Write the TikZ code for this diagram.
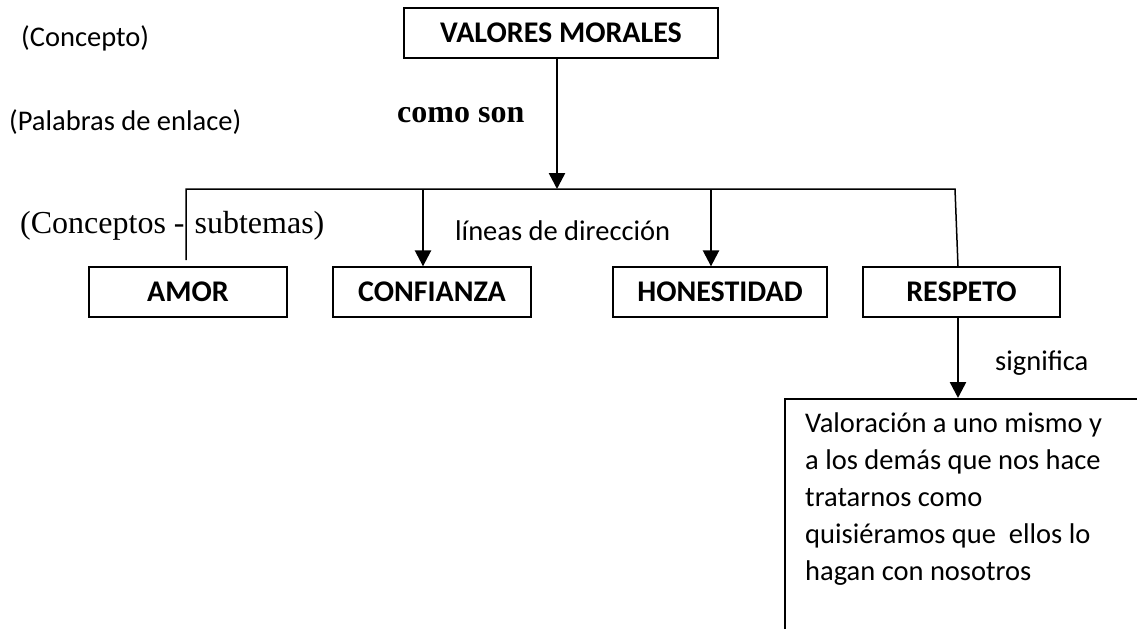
\documentclass[tikz,border=0pt]{standalone}
\usepackage{fontspec}
\setmainfont{Carlito}
\newfontfamily\tmsfont{Liberation Serif}
\usetikzlibrary{arrows.meta}
\begin{document}
\begin{tikzpicture}[x=1pt,y=-1pt,
  box/.style={draw,line width=1.3pt,inner sep=0pt,minimum height=50pt,font=\fontsize{30}{34}\selectfont\bfseries},
  lbl/.style={inner sep=0pt,font=\fontsize{28.5}{32}\selectfont},
  arr/.style={line width=2.5pt,-{Triangle[width=16pt,length=16pt]}},
  thin/.style={line width=1.5pt}]
\useasboundingbox[fill=white] (0,0) rectangle (1137,629);
\node[box,minimum width=314pt] (vm) at (561,33) {VALORES MORALES};
\node[box,minimum width=198pt] (amor) at (188,292) {AMOR};
\node[box,minimum width=198pt] (conf) at (432,292) {CONFIANZA};
\node[box,minimum width=214pt] (hon) at (720,292) {HONESTIDAD};
\node[box,minimum width=197pt] (resp) at (961.5,292) {RESPETO};
\node[lbl,anchor=west] (lconc) at (21,38) {(Concepto)};
\node[lbl,anchor=west] (lpal) at (9,122) {(Palabras de enlace)};
\node[inner sep=0pt,anchor=west,font=\tmsfont\fontsize{32}{36}\selectfont\bfseries] (como) at (397,115) {como son};
\node[inner sep=0pt,anchor=west,font=\tmsfont\fontsize{32}{36}\selectfont] (lsub) at (20,226) {(Conceptos -\hspace{10pt}subtemas)};
\node[lbl,anchor=west] (llin) at (455,231) {líneas de dirección};
\node[lbl,anchor=west] (lsig) at (995,363) {significa};
\coordinate (j) at (557,189);
\coordinate (bl) at (186,189);
\coordinate (br) at (955,189);
\coordinate (amtop) at (186,260);
\coordinate (dtl) at (785,399);
\coordinate (dtr) at (1137,399);
\coordinate (dbl) at (785,629);
\draw[arr] (vm.south -| j) -- (j);
\draw[thin] (amtop) -- (bl) -- (br) -- (resp.north -| 958,0);
\draw[arr] (bl -| 423,0) -- (conf.north -| 423,0);
\draw[arr] (bl -| 711,0) -- (hon.north -| 711,0);
\draw[arr] (resp.south -| 958,0) -- (958,398);
\draw[line width=1.3pt] (dbl) -- (dtl) -- (dtr);
\node[lbl,anchor=north west,align=left,font=\fontsize{28.5}{37}\selectfont] (def) at (805,413) {Valoración a uno mismo y\\a los demás que nos hace\\tratarnos como\\quisiéramos que\ \ ellos lo\\hagan con nosotros};
\end{tikzpicture}
\end{document}
